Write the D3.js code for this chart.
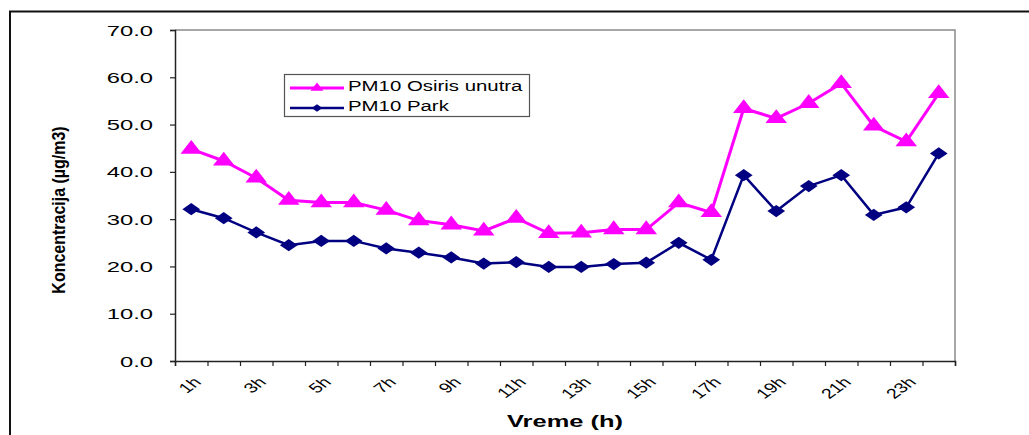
<!DOCTYPE html>
<html>
<head>
<meta charset="utf-8">
<script src="https://cdn.jsdelivr.net/npm/d3@7"></script>
<style>
  body { margin: 0; background: #fff; }
  text { font-family: "Liberation Sans", Arial, sans-serif; fill: #000; }
</style>
</head>
<body>
<div id="chart-area"></div>
<script>
/*
*    PM10 concentration by hour
*/

var hours = ["1h","2h","3h","4h","5h","6h","7h","8h","9h","10h","11h","12h",
             "13h","14h","15h","16h","17h","18h","19h","20h","21h","22h","23h","24h"];
var osiris = [44.8, 42.3, 38.7, 34.0, 33.5, 33.5, 31.9, 29.7, 28.8, 27.5, 30.2, 27.0,
              27.1, 27.8, 27.8, 33.5, 31.4, 53.4, 51.3, 54.5, 58.7, 49.7, 46.4, 56.6];
var park = [32.1, 30.2, 27.2, 24.5, 25.4, 25.4, 23.8, 22.9, 21.9, 20.6, 20.9, 19.9,
            19.9, 20.5, 20.8, 25.0, 21.4, 39.3, 31.7, 37.0, 39.3, 30.9, 32.5, 43.9];
var yTicks = [0, 10, 20, 30, 40, 50, 60, 70];
var seriesNames = ["PM10 Osiris unutra", "PM10 Park"];

var width = 1029;
var height = 435;
var plot = {left: 175, right: 955, top: 30, bottom: 361};

var svg = d3.select("#chart-area").append("svg")
            .attr("width", width)
            .attr("height", height);

// outer frame (only left and top edges are visible)
svg.append("rect")
   .attr("x", 10).attr("y", 11.5)
   .attr("width", 1100).attr("height", 500)
   .attr("fill", "#fff")
   .attr("stroke", "#111")
   .attr("stroke-width", 2);

var x = d3.scaleBand()
          .domain(hours)
          .range([plot.left, plot.right])
          .padding(0);

var xEdge = d3.scaleLinear()
              .domain([0, hours.length])
              .range([plot.left, plot.right]);

var y = d3.scaleLinear()
          .domain([0, 70])
          .range([plot.bottom, plot.top]);

// plot area border (grey top and right)
svg.append("path")
   .attr("d", "M" + plot.left + "," + plot.top + "H" + plot.right + "V" + plot.bottom)
   .attr("fill", "none")
   .attr("stroke", "#8a8a8a")
   .attr("stroke-width", 1.5);

// y axis
var yAxisGroup = svg.append("g")
                    .attr("transform", "translate(" + plot.left + ",0)")
                    .call(d3.axisLeft(y).tickValues(yTicks).tickSize(5).tickFormat(d3.format(".1f")));
yAxisGroup.select(".domain").attr("stroke", "#222").attr("stroke-width", 1.5);
yAxisGroup.selectAll(".tick line").attr("stroke", "#222").attr("stroke-width", 1.2);
yAxisGroup.selectAll(".tick text")
          .attr("x", null).attr("dy", null)
          .attr("font-size", "14px")
          .attr("font-family", "Liberation Sans, Arial, sans-serif")
          .attr("fill", "#111")
          .attr("dominant-baseline", "central")
          .attr("transform", "translate(-22,0) scale(1.7,1)");

// x axis: ticks on category edges
var xAxisGroup = svg.append("g")
                    .attr("transform", "translate(0," + plot.bottom + ")")
                    .call(d3.axisBottom(xEdge).ticks(24).tickSize(5).tickFormat(""));
xAxisGroup.select(".domain").attr("stroke", "#222").attr("stroke-width", 1.5);
xAxisGroup.selectAll(".tick line").attr("stroke", "#222").attr("stroke-width", 1.2);

// x labels (every second hour), slanted
svg.append("g").selectAll("text")
   .data(hours.filter(function(d, i) { return i % 2 === 0; }))
   .enter().append("text")
   .attr("text-anchor", "end")
   .attr("font-size", "14px")
   .attr("fill", "#111")
   .attr("transform", function(d) {
       return "translate(" + (x(d) + x.bandwidth() / 2 + 11) + ",383) scale(1.4,1) rotate(-45)";
   })
   .text(function(d) { return d; });

// axis titles
svg.append("text")
   .attr("text-anchor", "middle")
   .attr("font-size", "16px")
   .attr("font-weight", "bold")
   .attr("transform", "translate(" + ((plot.left + plot.right) / 2) + ",427) scale(1.59,1)")
   .text("Vreme (h)");

svg.append("text")
   .attr("text-anchor", "middle")
   .attr("font-size", "16px")
   .attr("font-weight", "bold")
   .attr("transform", "translate(65,210) scale(1.2,1) rotate(-90)")
   .text("Koncentracija (µg/m3)");

// lines
var line = function(values) {
    return d3.line()
             .x(function(d, i) { return x(hours[i]) + x.bandwidth() / 2; })
             .y(function(d) { return y(d); })(values);
};

var triangle = d3.symbol().type(d3.symbolTriangle).size(110);
var diamond = d3.symbol().type(d3.symbolDiamond2).size(95);

svg.append("path")
   .attr("d", line(osiris))
   .attr("fill", "none")
   .attr("stroke", "#ff00ff")
   .attr("stroke-width", 3);

svg.append("path")
   .attr("d", line(park))
   .attr("fill", "none")
   .attr("stroke", "#000080")
   .attr("stroke-width", 2.5);

svg.append("g").selectAll("path")
   .data(osiris)
   .enter().append("path")
   .attr("d", triangle)
   .attr("fill", "#ff00ff")
   .attr("transform", function(d, i) {
       return "translate(" + (x(hours[i]) + x.bandwidth() / 2) + "," + y(d) + ") scale(1.35,1)";
   });

svg.append("g").selectAll("path")
   .data(park)
   .enter().append("path")
   .attr("d", diamond)
   .attr("fill", "#000080")
   .attr("transform", function(d, i) {
       return "translate(" + (x(hours[i]) + x.bandwidth() / 2) + "," + y(d) + ") scale(1.45,1)";
   });

// legend
var legend = svg.append("g");
legend.append("rect")
      .attr("x", 284.5).attr("y", 74.5)
      .attr("width", 245).attr("height", 42)
      .attr("fill", "#fff")
      .attr("stroke", "#555")
      .attr("stroke-width", 1.2);

var legendColors = ["#ff00ff", "#000080"];
var legendSymbols = [triangle, diamond];
var legendScale = [1.35, 1.45];
var legendRows = [88, 108];

seriesNames.forEach(function(name, i) {
    legend.append("line")
          .attr("x1", 290).attr("x2", 344)
          .attr("y1", legendRows[i]).attr("y2", legendRows[i])
          .attr("stroke", legendColors[i])
          .attr("stroke-width", i === 0 ? 3 : 2.5);
    legend.append("path")
          .attr("d", legendSymbols[i])
          .attr("fill", legendColors[i])
          .attr("transform", "translate(317," + legendRows[i] + ") scale(" + legendScale[i] * 0.6 + ",0.6)");
    legend.append("text")
          .attr("font-size", "15px")
          .attr("transform", "translate(348," + (legendRows[i] + 3) + ") scale(1.36,1)")
          .attr("fill", "#111")
          .text(name);
});
</script>
</body>
</html>
